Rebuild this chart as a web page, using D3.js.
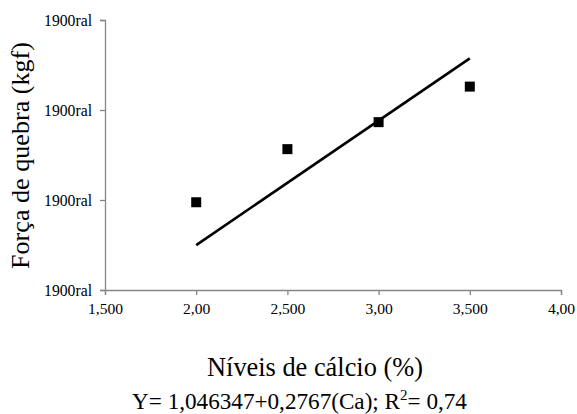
<!DOCTYPE html>
<html><head><meta charset="utf-8">
<script src="https://cdn.jsdelivr.net/npm/d3@7"></script>
</head><body style="margin:0;background:#fff">
<script>
const calcium = [2.0, 2.5, 3.0, 3.5];
const force = [1.695, 1.813, 1.873, 1.952];
const xTicks = [1.5, 2.0, 2.5, 3.0, 3.5, 4.0];
const xTickLabels = ["1,500", "2,00", "2,500", "3,00", "3,500", "4,00"];
const yTicks = [1.5, 1.7, 1.9, 2.1];
const yTickLabels = ["1900ral", "1900ral", "1900ral", "1900ral"];
const intercept = 1.046347, slope = 0.2767;
const fitRange = [2.0, 3.5];

const W = 577, H = 414;
const svg = d3.select("body").append("svg").attr("width", W).attr("height", H).style("display", "block");
const font = "Liberation Serif";

function fitSize(node, target) {
  const len = node.getComputedTextLength();
  const fs = parseFloat(getComputedStyle(node).fontSize);
  return fs * target / len;
}

const x = d3.scaleLinear().domain([1.5, 4.0]).range([105, 561]);
const y = d3.scaleLinear().domain([1.5, 2.1]).range([290, 20]);

const xAxis = svg.append("g").attr("transform", "translate(0,290)")
  .call(d3.axisBottom(x).tickValues(xTicks).tickFormat((d, i) => xTickLabels[i]).tickSizeOuter(0).tickSize(5));
const yAxis = svg.append("g").attr("transform", "translate(105,0)")
  .call(d3.axisLeft(y).tickValues(yTicks).tickFormat((d, i) => yTickLabels[i]).tickSizeOuter(0).tickSize(5));

[xAxis, yAxis].forEach(g => {
  g.attr("font-family", null).attr("font-size", null);
  g.select(".domain").attr("stroke", "#868686").attr("stroke-width", 1.3);
  g.selectAll(".tick line").attr("stroke", "#868686").attr("stroke-width", 1.3);
  g.selectAll(".tick text").attr("fill", "#000").style("font-family", font).style("font-size", "14px");
});
const xfs = fitSize(xAxis.select(".tick text").node(), 35);
xAxis.selectAll(".tick text").style("font-size", xfs + "px").attr("y", 8).attr("dy", "1em");
const yfs = fitSize(yAxis.select(".tick text").node(), 48);
yAxis.selectAll(".tick text").style("font-size", yfs + "px").attr("x", -13);

// regression line
const line = d3.line().x(d => x(d)).y(d => y(intercept + slope * d));
svg.append("path").datum(fitRange).attr("d", line)
  .attr("stroke", "#000").attr("stroke-width", 2.6).attr("fill", "none");

// points
const s = 10;
svg.selectAll("rect.pt").data(calcium).enter().append("rect").attr("class", "pt")
  .attr("x", d => x(d) - s / 2).attr("y", (d, i) => y(force[i]) - s / 2)
  .attr("width", s).attr("height", s).attr("fill", "#000");

// titles
const yt = svg.append("text").attr("transform", "translate(29,155.5) rotate(-90)")
  .attr("text-anchor", "middle").style("font-family", font).style("font-size", "22px")
  .text("Força de quebra (kgf)");
yt.style("font-size", fitSize(yt.node(), 227) + "px");

const xt = svg.append("text").attr("x", 315).attr("y", 376).attr("text-anchor", "middle")
  .style("font-family", font).style("font-size", "22px").text("Níveis de cálcio (%)");
xt.style("font-size", fitSize(xt.node(), 216) + "px");

const eq = svg.append("text").attr("x", 299.5).attr("y", 409).attr("text-anchor", "middle")
  .style("font-family", font).style("font-size", "20px");
eq.append("tspan").text("Y= 1,046347+0,2767(Ca); R");
const sup = eq.append("tspan").style("font-size", "13px").attr("dy", -8).text("2");
eq.append("tspan").attr("dy", 8).text("= 0,74");
const efs = fitSize(eq.node(), 335);
eq.style("font-size", efs + "px");
sup.style("font-size", (efs * 0.65) + "px").attr("dy", -efs * 0.4);
eq.select("tspan:last-child").attr("dy", efs * 0.4);
</script>
</body></html>
